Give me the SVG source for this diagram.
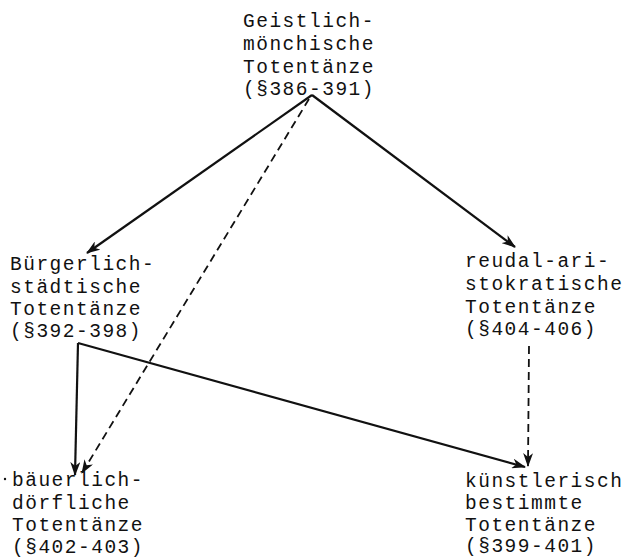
<svg xmlns="http://www.w3.org/2000/svg" width="633" height="559" viewBox="0 0 633 559">
  <style>
    .lbl { font-family: "Liberation Mono", "DejaVu Sans Mono", monospace; font-size: 19.5px; letter-spacing: 1.5px; fill: #111; }
    .solid { stroke: #111; stroke-width: 2.2; fill: none; }
    .dash { stroke: #111; stroke-width: 1.8; fill: none; stroke-dasharray: 8 5; }
  </style>
  <defs>
    <marker id="head" viewBox="0 0 14 10" refX="13" refY="5" markerWidth="14" markerHeight="10" markerUnits="userSpaceOnUse" orient="auto">
      <path d="M0,0 L14,5 L0,10 L4,5 z" fill="#111"/>
    </marker>
  </defs>

  <g id="connectors">
    <line class="solid" x1="312" y1="95" x2="87" y2="253" marker-end="url(#head)"/>
    <line class="solid" x1="312" y1="95" x2="515" y2="247" marker-end="url(#head)"/>
    <line class="dash" x1="309" y1="99" x2="82" y2="473" marker-end="url(#head)"/>
    <polyline class="solid" points="78,343 75,475" marker-end="url(#head)"/>
    <line class="solid" x1="78" y1="343" x2="525" y2="467" marker-end="url(#head)"/>
    <line class="dash" x1="529" y1="346" x2="528" y2="466" marker-end="url(#head)"/>
  </g>

  <g id="geistlich">
    <text class="lbl" x="243" y="27">Geistlich-</text>
    <text class="lbl" x="243" y="50">mönchische</text>
    <text class="lbl" x="243" y="73">Totentänze</text>
    <text class="lbl" x="243" y="95">(§386-391)</text>
  </g>

  <g id="buergerlich">
    <text class="lbl" x="10" y="270">Bürgerlich-</text>
    <text class="lbl" x="10" y="293">städtische</text>
    <text class="lbl" x="10" y="315">Totentänze</text>
    <text class="lbl" x="10" y="337">(§392-398)</text>
  </g>

  <g id="feudal">
    <text class="lbl" x="465" y="267">reudal-ari-</text>
    <text class="lbl" x="465" y="290">stokratische</text>
    <text class="lbl" x="465" y="313">Totentänze</text>
    <text class="lbl" x="465" y="335">(§404-406)</text>
  </g>

  <g id="baeuerlich">
    <circle cx="5" cy="479" r="1.2" fill="#111"/>
    <text class="lbl" x="12" y="486">bäuerlich-</text>
    <text class="lbl" x="12" y="509">dörfliche</text>
    <text class="lbl" x="12" y="531">Totentänze</text>
    <text class="lbl" x="12" y="553">(§402-403)</text>
  </g>

  <g id="kuenstlerisch">
    <text class="lbl" x="465" y="487">künstlerisch</text>
    <text class="lbl" x="465" y="509">bestimmte</text>
    <text class="lbl" x="465" y="531">Totentänze</text>
    <text class="lbl" x="465" y="552">(§399-401)</text>
  </g>
</svg>
